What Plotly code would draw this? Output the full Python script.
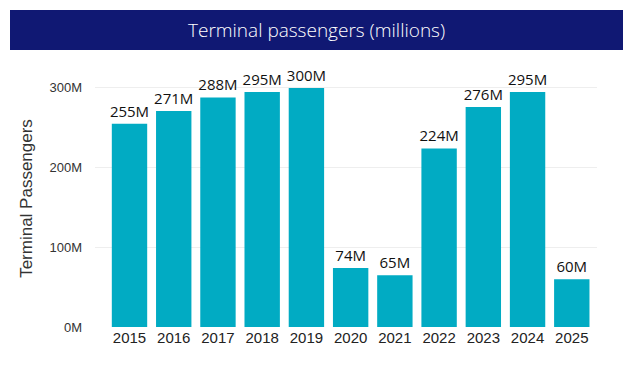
import plotly.graph_objects as go

years = ["2015", "2016", "2017", "2018", "2019", "2020", "2021", "2022", "2023", "2024", "2025"]
passengers_m = [255, 271, 288, 295, 300, 74, 65, 224, 276, 295, 60]
labels = [f"{v}M" for v in passengers_m]
tick_vals = [0, 100e6, 200e6, 300e6]
tick_text = ["0M", "100M", "200M", "300M"]

OFF = 8  # default page body margin
W, H = 633 - 2 * OFF, 387 - 2 * OFF
L, R, T = 95 - OFF, 28, 70 - OFF
B = H - (327 - OFF)
pw, ph = W - L - R, H - T - B

def px_x(p):
    return (p - OFF - L) / pw

def px_y(p):
    return (H - B - (p - OFF)) / ph

fig = go.Figure(go.Bar(
    x=list(range(len(years))),
    y=[v * 1e6 for v in passengers_m],
    marker=dict(color="#01ABC3", line=dict(width=0)),
    text=labels,
    textposition="outside",
    constraintext="none",
    textfont=dict(family="Open Sans", size=15, color="#111111"),
    cliponaxis=False,
    hoverinfo="skip",
))

fig.update_layout(
    width=W, height=H,
    margin=dict(l=L, r=R, t=T, b=B),
    paper_bgcolor="white", plot_bgcolor="white",
    bargap=0.2,
    showlegend=False,
    uniformtext=dict(mode=False),
    xaxis=dict(
        tickmode="array", tickvals=list(range(len(years))), ticktext=years,
        range=[-0.78, 10.57], showgrid=False, zeroline=False, showline=False,
        tickfont=dict(family="Arial", size=15, color="#222222"), ticks="",
    ),
    yaxis=dict(
        range=[0, 322.5e6], tickvals=tick_vals, ticktext=tick_text,
        showgrid=True, gridcolor="#EEEEEE", gridwidth=1, zeroline=False,
        tickfont=dict(family="Arial", size=13, color="#333333"), ticks="",
        ticklabelstandoff=12,
        title=dict(text="Terminal Passengers", font=dict(family="Arial", size=17, color="#333333"), standoff=12),
    ),
    shapes=[dict(
        type="rect", xref="paper", yref="paper",
        x0=px_x(10), x1=px_x(623), y0=px_y(50), y1=px_y(10),
        fillcolor="#101873", line=dict(width=0), layer="below",
    )],
    annotations=[dict(
        text="Terminal passengers (millions)", xref="paper", yref="paper",
        x=px_x(316.5), y=px_y(30), xanchor="center", yanchor="middle", showarrow=False,
        font=dict(family="Open Sans", size=19, color="white", weight=300),
    )],
)

fig.write_html("out.html")
